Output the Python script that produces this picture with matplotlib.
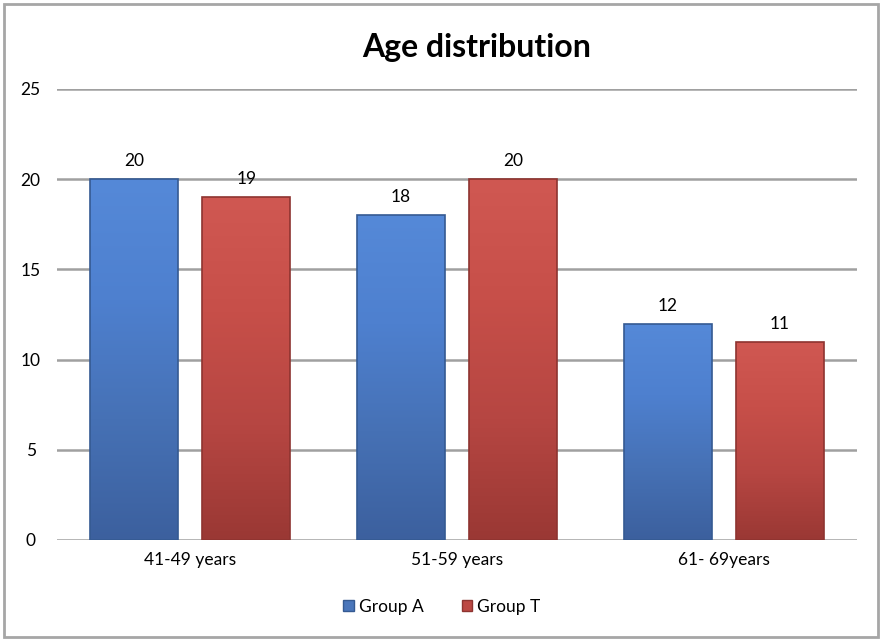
import numpy as np
import matplotlib.pyplot as plt
from matplotlib.patches import Rectangle, Patch
from matplotlib.colors import LinearSegmentedColormap

categories = ["41-49 years", "51-59 years", "61- 69years"]
group_a = [20, 18, 12]
group_t = [19, 20, 11]
series_names = ["Group A", "Group T"]

plt.rcParams['font.family'] = ['Lato', 'DejaVu Sans']

fig = plt.figure(figsize=(8.82, 6.42), dpi=100)
fig.patches.append(Rectangle((0.004, 0.008), 0.991, 0.986, transform=fig.transFigure,
                             fill=False, edgecolor='#a6a6a6', linewidth=2))
ax = fig.add_axes([0.0646, 0.1589, 0.907, 0.7025])

ax.set_ylim(0, 25)
ax.set_xlim(-0.5, 2.5)
ax.set_yticks(range(0, 26, 5))
ax.yaxis.grid(True, color='#a0a0a0', linewidth=1.8)
ax.set_axisbelow(True)
for s in ax.spines.values():
    s.set_visible(False)
ax.tick_params(axis='both', length=0, labelsize=12.5, pad=9)
ax.tick_params(axis='y', pad=19)
for lbl in ax.get_yticklabels():
    lbl.set_horizontalalignment('center')
ax.set_xticks(range(len(categories)))
ax.set_xticklabels(categories)

cmaps = {
    "Group A": LinearSegmentedColormap.from_list('a', ['#3c609e', '#4671b5', '#4e80cf', '#5589d8']),
    "Group T": LinearSegmentedColormap.from_list('t', ['#9a3834', '#b64642', '#c74f49', '#d05852']),
}
edges = {"Group A": '#355a92', "Group T": '#8e3430'}

x = np.arange(len(categories))
width = 0.33
grad = np.linspace(0, 1, 256).reshape(-1, 1)
for vals, name, off in [(group_a, "Group A", -0.21), (group_t, "Group T", 0.21)]:
    bars = ax.bar(x + off, vals, width, color='none', edgecolor=edges[name], linewidth=1.2, zorder=3)
    for b, v in zip(bars, vals):
        x0, w = b.get_x(), b.get_width()
        im = ax.imshow(grad, extent=(x0, x0 + w, 0, v), origin='lower', aspect='auto',
                       cmap=cmaps[name], zorder=2.5)
        im.set_clip_path(b)
        ax.text(b.get_x() + w / 2, v + 0.55, str(v), ha='center', va='bottom', fontsize=12.5)
ax.set_xlim(-0.5, 2.5)
ax.set_ylim(0, 25)

handles = [Patch(facecolor='#4a76bb', edgecolor='#355a92'), Patch(facecolor='#bc4843', edgecolor='#8e3430')]
fig.legend(handles, series_names, loc='center', bbox_to_anchor=(0.501, 0.055), ncol=2, frameon=False,
           fontsize=12.5, handlelength=0.6, handleheight=0.6, handletextpad=0.3, columnspacing=2.2)

fig.text(0.54, 0.926, "Age distribution", ha='center', va='center', fontsize=23, fontweight='bold')

fig.savefig('out.png', dpi=100)
